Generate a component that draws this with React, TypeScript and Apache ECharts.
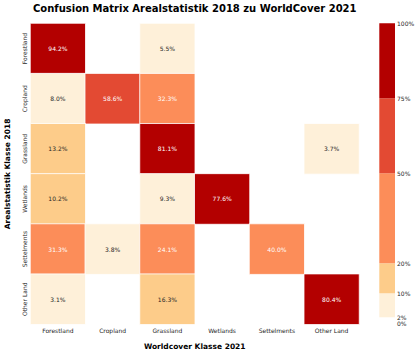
import React, { useEffect, useRef } from "react";
import * as echarts from "echarts";

const worldcoverClasses = ["Forestland", "Cropland", "Grassland", "Wetlands", "Settelments", "Other Land"];
const arealClasses = ["Forestland", "Cropland", "Grassland", "Wetlands", "Settelments", "Other Land"];

// rows = Arealstatistik 2018, columns = WorldCover 2021 (null = empty cell)
const rowForestland = [94.2, null, 5.5, null, null, null];
const rowCropland = [8.0, 58.6, 32.3, null, null, null];
const rowGrassland = [13.2, null, 81.1, null, null, 3.7];
const rowWetlands = [10.2, null, 9.3, 77.6, null, null];
const rowSettlements = [31.3, 3.8, 24.1, null, 40.0, null];
const rowOtherLand = [3.1, null, 16.3, null, null, 80.4];
const matrixRows = [rowForestland, rowCropland, rowGrassland, rowWetlands, rowSettlements, rowOtherLand];

const bounds = [0, 2, 10, 20, 50, 75, 100];
const binColors = ["#ffffff", "#fef0d9", "#fdcc8a", "#fc8d59", "#e34a33", "#b30000"];
const colorbarTicks = [0, 2, 10, 20, 50, 75, 100];

const FONT = "DejaVu Sans";

export default function App() {
  const ref = useRef<HTMLDivElement>(null);
  useEffect(() => {
    if (!ref.current) return;
    const chart = echarts.init(ref.current, null, { renderer: "svg" });

    const heatData: any[] = [];
    matrixRows.forEach((row, r) => {
      row.forEach((v, c) => {
        if (v === null) return;
        heatData.push({
          value: [c, r, v],
          label: { color: v > 20 ? "#ffffff" : "#262626" },
        });
      });
    });

    const pieces = binColors.map((color, i) => ({ gte: bounds[i], lt: bounds[i + 1] + (i === binColors.length - 1 ? 0.001 : 0), color }));

    const gL = 30.5, gT = 23.5, gW = 328.5, gH = 300.8;

    const barSeries = binColors.map((color, i) => ({
      type: "bar",
      xAxisIndex: 1,
      yAxisIndex: 1,
      stack: "cb",
      barWidth: "100%",
      data: [bounds[i + 1] - bounds[i]],
      itemStyle: { color },
      silent: true,
    }));

    chart.setOption({
      animation: false,
      textStyle: { fontFamily: FONT },
      grid: [
        { left: gL, top: gT, width: gW, height: gH },
        { left: 379.3, top: 23.3, width: 15.7, height: 300 },
      ],
      xAxis: [
        {
          type: "category",
          gridIndex: 0,
          data: worldcoverClasses,
          axisLine: { show: false },
          axisTick: { show: false },
          splitLine: { show: false },
          axisLabel: { fontSize: 6, color: "#262626", margin: 3, fontFamily: FONT },
        },
        {
          type: "category",
          gridIndex: 1,
          data: ["cb"],
          show: false,
        },
      ],
      yAxis: [
        {
          type: "category",
          gridIndex: 0,
          data: arealClasses,
          inverse: true,
          axisLine: { show: false },
          axisTick: { show: false },
          splitLine: { show: false },
          axisLabel: { fontSize: 6, color: "#262626", rotate: 90, margin: 3, fontFamily: FONT },
        },
        {
          type: "value",
          gridIndex: 1,
          min: 0,
          max: 100,
          position: "right",
          axisLine: { show: false },
          axisTick: { show: false },
          splitLine: { show: false },
          axisLabel: {
            customValues: colorbarTicks,
            fontSize: 6,
            color: "#262626",
            margin: 2,
            fontFamily: FONT,
            formatter: (v: number) => `${v}%`,
          },
        },
      ],
      visualMap: {
        type: "piecewise",
        show: false,
        seriesIndex: 0,
        dimension: 2,
        pieces,
      },
      series: [
        {
          type: "heatmap",
          xAxisIndex: 0,
          yAxisIndex: 0,
          data: heatData,
          itemStyle: { borderColor: "#ffffff", borderWidth: 0.8 },
          label: {
            show: true,
            fontSize: 6,
            fontFamily: FONT,
            formatter: (p: any) => `${p.value[2].toFixed(1)}%`,
          },
        },
        ...barSeries,
      ],
      graphic: [
        {
          type: "text",
          x: gL + gW / 2,
          y: 8,
          style: {
            text: "Confusion Matrix Arealstatistik 2018 zu WorldCover 2021",
            fontFamily: FONT,
            fontWeight: "bold",
            fontSize: 10,
            fill: "#000",
            align: "center",
            verticalAlign: "middle",
          },
        },
        {
          type: "text",
          x: gL + gW / 2,
          y: 346,
          style: {
            text: "Worldcover Klasse 2021",
            fontFamily: FONT,
            fontWeight: "bold",
            fontSize: 7.5,
            fill: "#000",
            align: "center",
            verticalAlign: "middle",
          },
        },
        {
          type: "text",
          x: 7.5,
          y: gT + gH / 2,
          rotation: Math.PI / 2,
          style: {
            text: "Arealstatistik Klasse 2018",
            fontFamily: FONT,
            fontWeight: "bold",
            fontSize: 7.5,
            fill: "#000",
            align: "center",
            verticalAlign: "middle",
          },
        },
      ],
    });
    return () => chart.dispose();
  }, []);
  return <div ref={ref} style={{ width: 419, height: 355, position: "absolute", left: 0, top: 0, background: "#fff" }} />;
}
